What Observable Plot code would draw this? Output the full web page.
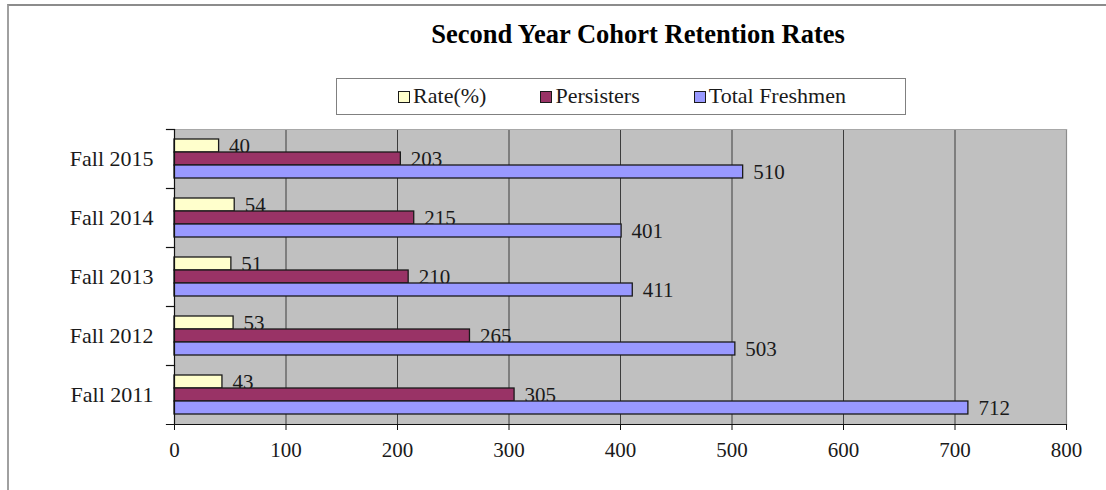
<!DOCTYPE html>
<html>
<head>
<meta charset="utf-8">
<script src="https://cdn.jsdelivr.net/npm/d3@7"></script>
<script src="https://cdn.jsdelivr.net/npm/@observablehq/plot@0.6"></script>
<style>
  body { margin: 0; background: #fff; font-family: "Liberation Serif", "Times New Roman", serif; color: #1a1a1a; }
  #chart { position: relative; width: 1106px; height: 490px; overflow: hidden; }
  #border { position: absolute; left: 7px; top: 4px; right: -10px; bottom: -10px;
            border-top: 2px solid #8c8c8c; border-left: 2px solid #a0a0a0; }
  #title { position: absolute; left: 338px; top: 19px; width: 600px; text-align: center;
           font-family: "Liberation Serif", "Times New Roman", serif;
           font-size: 26.5px; line-height: 30px; font-weight: bold; color: #000; }
  #legend { position: absolute; left: 336px; top: 78px; width: 570px; height: 37px; box-sizing: border-box;
            border: 1.5px solid #808080; background: #fff; text-align: center; padding-left: 2px;
            font-family: "Liberation Serif", "Times New Roman", serif;
            font-size: 22px; line-height: 33px; white-space: nowrap; color: #1a1a1a; }
  #legend .item { margin: 0 27px; font-family: "Liberation Serif", "Times New Roman", serif; }
  #legend .sw { display: inline-block; width: 10px; height: 10px; border: 1px solid #1a1a1a;
                margin-right: 3px; vertical-align: baseline; }
  #plot { position: absolute; left: 0; top: 120px; }
</style>
</head>
<body>
<div id="chart">
  <div id="border"></div>
  <div id="title">Second Year Cohort Retention Rates</div>
  <div id="legend"></div>
  <div id="plot"></div>
</div>
<script>
// Cohorts, top to bottom
const years = ["Fall 2015", "Fall 2014", "Fall 2013", "Fall 2012", "Fall 2011"];
// Series drawn inside each cohort, top to bottom
const series = ["Rate(%)", "Persisters", "Total Freshmen"];
const rate = [40, 54, 51, 53, 43];
const persisters = [203, 215, 210, 265, 305];
const totalFreshmen = [510, 401, 411, 503, 712];
const xTicks = [0, 100, 200, 300, 400, 500, 600, 700, 800];
const colors = ["#ffffcc", "#993366", "#9999ff"];

const valuesBySeries = [rate, persisters, totalFreshmen];
const rows = years.flatMap((year, i) =>
  series.map((s, j) => ({year, series: s, value: valuesBySeries[j][i]}))
);

// Legend
const legend = document.getElementById("legend");
series.forEach((s, j) => {
  const item = document.createElement("span");
  item.className = "item";
  const sw = document.createElement("span");
  sw.className = "sw";
  sw.style.background = colors[j];
  item.appendChild(sw);
  item.appendChild(document.createTextNode(s));
  legend.appendChild(item);
});

// 295px of plot height gives whole-pixel cohort bands
const W = 1106, H = 370, ML = 174, MR = 40, MT = 9, MB = 66;
const plotW = W - ML - MR;

const seriesMarks = series.flatMap((s) => [
  Plot.barX(rows, {
    filter: (d) => d.series === s,
    x: "value", y: "series", fy: "year", fill: "series",
    stroke: "#1a1a1a", strokeWidth: 1.3
  }),
  Plot.text(rows, {
    filter: (d) => d.series === s,
    x: "value", y: "series", fy: "year", text: (d) => String(d.value),
    textAnchor: "start", dx: 10, fontSize: 21, fill: "#1a1a1a"
  })
]);

const chart = Plot.plot({
  width: W, height: H,
  marginLeft: ML, marginRight: MR, marginTop: MT, marginBottom: MB,
  style: {fontFamily: "'Liberation Serif', 'Times New Roman', serif", fontSize: "21px", background: "transparent", overflow: "visible"},
  x: {domain: [0, 800]},
  y: {domain: series, paddingInner: 0, paddingOuter: 0.75, axis: null},
  fy: {domain: years, padding: 0},
  color: {domain: series, range: colors},
  marks: [
    Plot.frame({fill: "#c0c0c0", shapeRendering: "crispEdges"}),
    Plot.ruleX(xTicks.filter((t) => t > 0 && t < 800), {stroke: "#3c3c3c", strokeWidth: 1}),
    Plot.ruleX([800], {stroke: "#8c8c8c", strokeWidth: 1.2}),
    Plot.frame({anchor: "top", facetAnchor: "top", stroke: "#a8a8a8", strokeWidth: 1.2}),
    ...seriesMarks,
    Plot.ruleX([0], {stroke: "#111", strokeWidth: 1.2}),
    Plot.frame({anchor: "top", insetLeft: -8, insetRight: plotW, stroke: "#111", strokeWidth: 1.2}),
    Plot.frame({anchor: "bottom", facetAnchor: "bottom", insetLeft: -8, stroke: "#111", strokeWidth: 1.2}),
    Plot.axisX({ticks: xTicks, tickSize: 6, tickPadding: 12, fontSize: 21, fill: "#1a1a1a", stroke: "#111", label: null}),
    Plot.axisFy({anchor: "left", tickSize: 0, tickPadding: 21, fontSize: 22, fill: "#1a1a1a", label: null})
  ]
});
document.getElementById("plot").appendChild(chart);
</script>
</body>
</html>
